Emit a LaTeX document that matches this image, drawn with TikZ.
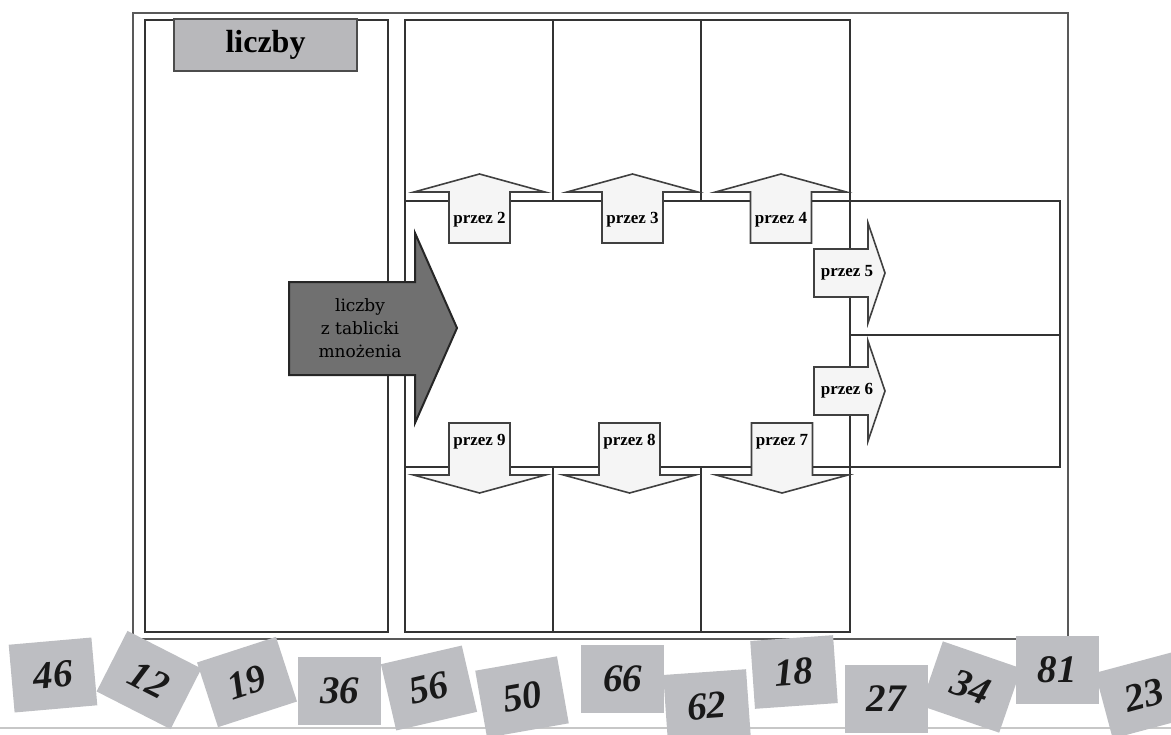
\documentclass[tikz,border=0pt]{standalone}
\usepackage{fontspec}
\setmainfont{Liberation Serif}
\newfontfamily\plakat{DejaVu Serif}
\usetikzlibrary{fit}
\definecolor{kartka}{RGB}{189,190,194}
\definecolor{tytul}{RGB}{184,184,187}
\definecolor{ciemna}{RGB}{112,112,112}
\tikzset{cell/.style={rectangle, draw=black!80, line width=0.7pt, inner sep=0pt}}
\tikzset{strzalka/.style={draw=black!75, line width=0.8pt, fill=black!4}}
\tikzset{opis/.style={font=\bfseries\fontsize{8.5}{10}\selectfont, inner sep=1pt}}
\tikzset{karta/.style={
   fill=kartka, inner sep=0pt,
   minimum width=41.5pt, minimum height=34pt,
   font=\bfseries\itshape\fontsize{19.5}{20}\selectfont,
   text=black!90
}}

\begin{document}
\begin{tikzpicture}[x=0.5pt, y=-0.5pt]

    \useasboundingbox (0,0) rectangle (1171,734);

    \node[cell, draw=black!65, fit={(133,13)(1068,639)}] (ramka) {};
    \node[cell, fit={(145,20)(388,632)}] (lewa) {};

    \node[cell, fit={(405,20)(553,201)}]  (g1) {};
    \node[cell, fit={(553,20)(701,201)}]  (g2) {};
    \node[cell, fit={(701,20)(850,201)}]  (g3) {};
    \node[cell, fit={(405,201)(850,467)}] (srodek) {};
    \node[cell, fit={(405,467)(553,632)}] (d1) {};
    \node[cell, fit={(553,467)(701,632)}] (d2) {};
    \node[cell, fit={(701,467)(850,632)}] (d3) {};
    \node[cell, fit={(850,201)(1060,335)}] (p1) {};
    \node[cell, fit={(850,335)(1060,467)}] (p2) {};

    \node[fill=tytul, draw=black!70, line width=0.7pt,
          minimum width=91.5pt, minimum height=26pt,
          font=\bfseries\fontsize{16}{18}\selectfont] (tytul) at (265.5,45) {liczby};

    \foreach \x/\n in {479.5/2, 632.5/3, 781/4} {
      \draw[strzalka] (\x-30.5,243) -- (\x-30.5,192) -- (\x-65.5,192) -- (\x,174)
                      -- (\x+65.5,192) -- (\x+30.5,192) -- (\x+30.5,243) -- cycle;
      \node[opis] (gora\n) at (\x,220) {przez \n};
    }

    \foreach \y/\n in {273/5, 391/6} {
      \draw[strzalka] (814,\y-24) -- (868,\y-24) -- (868,\y-50) -- (885,\y)
                      -- (868,\y+50) -- (868,\y+24) -- (814,\y+24) -- cycle;
      \node[opis] (prawo\n) at (847,\y) {przez \n};
    }

    \foreach \x/\n in {479.5/9, 629.5/8, 782/7} {
      \draw[strzalka] (\x-30.5,423) -- (\x+30.5,423) -- (\x+30.5,475) -- (\x+66,475)
                      -- (\x,493) -- (\x-66,475) -- (\x-30.5,475) -- cycle;
      \node[opis] (dol\n) at (\x,442) {przez \n};
    }

    \draw[draw=black!85, line width=1pt, fill=ciemna]
      (289,282) -- (415,282) -- (415,233) -- (457,328)
      -- (415,423) -- (415,375) -- (289,375) -- cycle;
    \node[align=center, text=black,
          font=\plakat\fontsize{8.5}{11.5}\selectfont] (wejscie) at (360,328)
          {liczby\\z tablicki\\mnożenia};

    \coordinate (l0) at (0,728);
    \coordinate (l1) at (1171,728);
    \draw[line width=1pt, black!22] (l0) -- (l1);

    \node[karta, rotate=5]   (k46) at (53,675)    {46};
    \node[karta, rotate=-27] (k12) at (149,680)   {12};
    \node[karta, rotate=18]  (k19) at (247,682)   {19};
    \node[karta]             (k36) at (339.5,691) {36};
    \node[karta, rotate=13]  (k56) at (429,688)   {56};
    \node[karta, rotate=10]  (k50) at (522,697)   {50};
    \node[karta]             (k66) at (622.5,679) {66};
    \node[karta, rotate=4]   (k62) at (707,706)   {62};
    \node[karta, rotate=4]   (k18) at (794,672)   {18};
    \node[karta]             (k27) at (886,699)   {27};
    \node[karta, rotate=-19] (k34) at (971,687)   {34};
    \node[karta]             (k81) at (1057,670)  {81};
    \node[karta, rotate=15]  (k23) at (1144,695)  {23};

\end{tikzpicture}
\end{document}
